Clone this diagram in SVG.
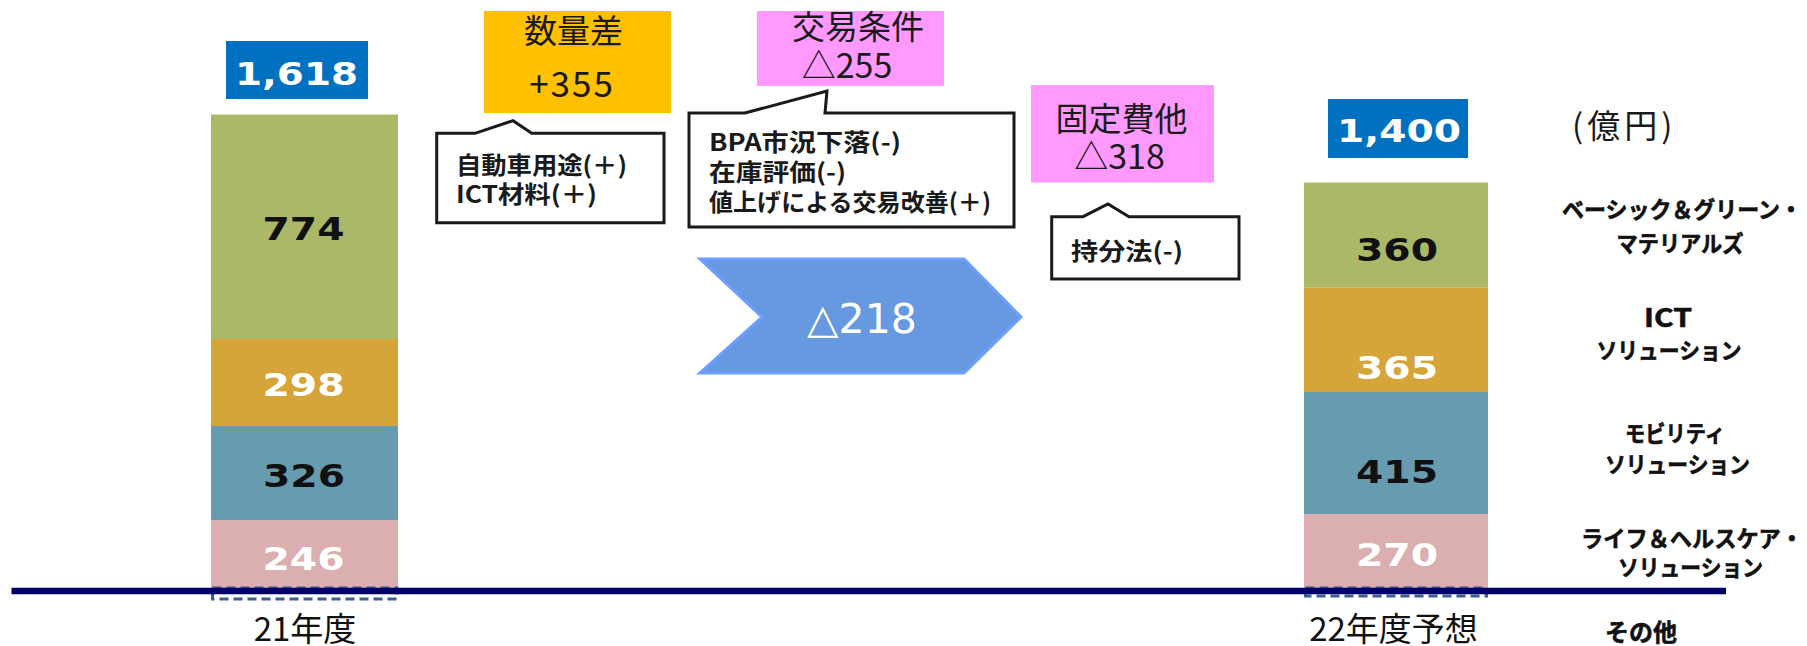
<svg xmlns="http://www.w3.org/2000/svg" width="1807" height="646" viewBox="0 0 1807 646">
<style>
.num{font-family:"DejaVu Sans","Liberation Sans",sans-serif;font-weight:bold;font-size:32px;text-anchor:middle}
.dk{fill:#111}
.wh{fill:#fff}
.box{font-family:"Noto Sans CJK JP",sans-serif;font-size:33px;fill:#1a1a1a;text-anchor:middle}
.co{font-family:"Noto Sans CJK JP",sans-serif;font-weight:bold;font-size:24px;fill:#1a1a1a}
.callout{fill:#fff;stroke:#1a1a1a;stroke-width:3}
.lbl{font-family:"Noto Sans CJK JP",sans-serif;font-weight:bold;font-size:22.5px;fill:#111;stroke:#111;stroke-width:0.6px;text-anchor:middle}
.yr{font-family:"Noto Sans CJK JP",sans-serif;font-size:33px;fill:#111;text-anchor:middle}
.g{fill:#ABB867}
.o{fill:#D6A53A}
.t{fill:#679BB0}
.p{fill:#DBAFAF}
.tot{fill:#0070C0}
.dash{fill:none;stroke:#3A5E96;stroke-width:3;stroke-dasharray:9 5}
</style>

<g id="bar-21">
  <rect class="g" x="211" y="114.5" width="187" height="224.5"/>
  <rect class="o" x="211" y="339" width="187" height="87"/>
  <rect class="t" x="211" y="426" width="187" height="94"/>
  <rect class="p" x="211" y="520" width="187" height="70"/>
  <rect class="dash" x="212.5" y="588" width="184.5" height="11"/>
  <text class="num dk" x="303.5" y="240" textLength="82" lengthAdjust="spacingAndGlyphs">774</text>
  <text class="num wh" x="303.5" y="396" textLength="82" lengthAdjust="spacingAndGlyphs">298</text>
  <text class="num dk" x="304" y="487" textLength="82" lengthAdjust="spacingAndGlyphs">326</text>
  <text class="num wh" x="303.5" y="570" textLength="82" lengthAdjust="spacingAndGlyphs">246</text>
</g>
<g id="total-21">
  <rect class="tot" x="226" y="41" width="142" height="58"/>
  <text class="num wh" x="296.5" y="84.5" textLength="123" lengthAdjust="spacingAndGlyphs">1,618</text>
</g>

<g id="bar-22">
  <rect class="g" x="1304" y="182.5" width="184" height="105.1"/>
  <rect class="o" x="1304" y="287.6" width="184" height="104.4"/>
  <rect class="t" x="1304" y="392" width="184" height="122"/>
  <rect class="p" x="1304" y="514" width="184" height="76"/>
  <rect class="dash" x="1305.5" y="588" width="181" height="8"/>
  <text class="num dk" x="1397" y="261" textLength="82" lengthAdjust="spacingAndGlyphs">360</text>
  <text class="num wh" x="1397" y="379" textLength="82" lengthAdjust="spacingAndGlyphs">365</text>
  <text class="num dk" x="1397" y="483" textLength="82" lengthAdjust="spacingAndGlyphs">415</text>
  <text class="num wh" x="1397" y="566" textLength="82" lengthAdjust="spacingAndGlyphs">270</text>
</g>
<g id="total-22">
  <rect class="tot" x="1328" y="99" width="140" height="59"/>
  <text class="num wh" x="1399" y="142" textLength="124" lengthAdjust="spacingAndGlyphs">1,400</text>
</g>

<g id="axis">
  <line x1="11.5" y1="591" x2="1726" y2="591" stroke="#000066" stroke-width="6.5"/>
</g>

<g id="volume">
  <rect x="484" y="11" width="187" height="102" fill="#FFC000"/>
  <text class="box" x="573.5" y="43">数量差</text>
  <text class="box" x="572" y="97" style="font-size:35px;letter-spacing:2px">+355</text>
</g>
<g id="volume-note">
  <path class="callout" d="M436.7,133.3 L475,133.3 L513,120.7 L531.7,133.3 L664,133.3 L664,222.7 L436.7,222.7 Z"/>
  <text class="co" x="456" y="174" textLength="171" lengthAdjust="spacingAndGlyphs">自動車用途(＋)</text>
  <text class="co" x="456" y="203" textLength="141" lengthAdjust="spacingAndGlyphs">ICT材料(＋)</text>
</g>

<g id="terms">
  <rect x="757" y="11" width="187" height="75" fill="#FF99FF"/>
  <text class="box" x="858" y="38.5">交易条件</text>
  <text class="box" x="847" y="77.5" style="font-size:34px">△255</text>
</g>
<g id="terms-note">
  <path class="callout" d="M689,113 L745,113 L827,91 L825,113 L1014,113 L1014,227 L689,227 Z"/>
  <text class="co" x="709" y="151" textLength="192" lengthAdjust="spacingAndGlyphs">BPA市況下落(-)</text>
  <text class="co" x="709" y="181" textLength="137" lengthAdjust="spacingAndGlyphs">在庫評価(-)</text>
  <text class="co" x="709" y="211" textLength="282" lengthAdjust="spacingAndGlyphs">値上げによる交易改善(＋)</text>
</g>

<g id="fixed">
  <rect x="1031" y="85" width="183" height="97.5" fill="#FF99FF"/>
  <text class="box" x="1121.5" y="131">固定費他</text>
  <text class="box" x="1119.5" y="169" style="font-size:34px">△318</text>
</g>
<g id="fixed-note">
  <path class="callout" d="M1051.7,216.7 L1083,216.7 L1108,204 L1129,216.7 L1239,216.7 L1239,279 L1051.7,279 Z"/>
  <text class="co" x="1071" y="260" textLength="112" lengthAdjust="spacingAndGlyphs">持分法(-)</text>
</g>

<g id="delta">
  <polygon points="700,259 964,259 1021,317 964,373 700,373 762,317" fill="#6699E0" stroke="#6E9EFF" stroke-width="3"/>
  <text x="862" y="333" font-family="DejaVu Sans, sans-serif" font-size="41" fill="#fff" text-anchor="middle">△218</text>
</g>

<g id="unit">
  <text x="1572" y="138" font-family="Noto Sans CJK JP, sans-serif" font-size="33" fill="#1a1a1a" letter-spacing="4">(億円)</text>
</g>

<g id="legend">
  <text class="lbl" x="1682" y="218" textLength="240" lengthAdjust="spacingAndGlyphs">ベーシック＆グリーン・</text>
  <text class="lbl" x="1680" y="252" textLength="127" lengthAdjust="spacingAndGlyphs">マテリアルズ</text>
  <text class="lbl" x="1668" y="327" style="font-size:26px" textLength="48" lengthAdjust="spacingAndGlyphs">ICT</text>
  <text class="lbl" x="1669" y="359" textLength="145" lengthAdjust="spacingAndGlyphs">ソリューション</text>
  <text class="lbl" x="1675" y="442" textLength="100" lengthAdjust="spacingAndGlyphs">モビリティ</text>
  <text class="lbl" x="1677.5" y="473" textLength="145" lengthAdjust="spacingAndGlyphs">ソリューション</text>
  <text class="lbl" x="1692" y="547" textLength="222" lengthAdjust="spacingAndGlyphs">ライフ＆ヘルスケア・</text>
  <text class="lbl" x="1690.5" y="576" textLength="145" lengthAdjust="spacingAndGlyphs">ソリューション</text>
  <text class="lbl" x="1641" y="641" style="font-size:24px" textLength="72" lengthAdjust="spacingAndGlyphs">その他</text>
</g>

<g id="years">
  <text class="yr" x="305" y="641">21年度</text>
  <text class="yr" x="1393.5" y="641">22年度予想</text>
</g>
</svg>
